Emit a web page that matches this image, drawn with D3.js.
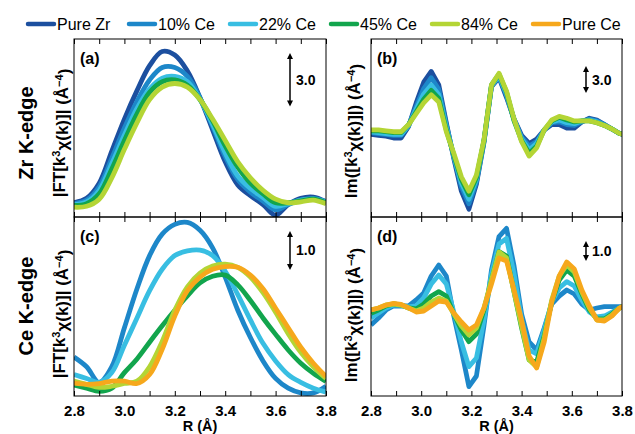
<!DOCTYPE html>
<html>
<head>
<meta charset="utf-8">
<script src="https://cdn.jsdelivr.net/npm/d3@7"></script>
<style>
  body { margin: 0; background: #fff; }
  svg { display: block; font-family: Arial, "Liberation Sans", sans-serif; }
</style>
</head>
<body>
<svg id="chart" width="635" height="434"></svg>
<script>
// series names and colours (legend order)
const seriesNames = ['Pure Zr', '10% Ce', '22% Ce', '45% Ce', '84% Ce', 'Pure Ce'];
const seriesColors = ['#1c4f9f', '#1d87c9', '#38bee2', '#12a54d', '#b4d535', '#f6a81c'];

// R grids (Å)
const rCoarse = [2.80, 2.85, 2.90, 2.95, 3.00, 3.05, 3.10, 3.15, 3.20, 3.25, 3.30,
  3.35, 3.40, 3.45, 3.50, 3.55, 3.60, 3.65, 3.70, 3.75, 3.80];
const rFine = [2.80, 2.83, 2.86, 2.89, 2.92, 2.95, 2.98, 3.01, 3.04, 3.07, 3.10, 3.13,
  3.16, 3.19, 3.22, 3.25, 3.28, 3.31, 3.34, 3.37, 3.40, 3.43, 3.46, 3.49, 3.52, 3.55,
  3.58, 3.61, 3.64, 3.67, 3.70, 3.73, 3.76, 3.79, 3.82];
const xTicks = [2.8, 2.9, 3.0, 3.1, 3.2, 3.3, 3.4, 3.5, 3.6, 3.7, 3.8];

// (a) Zr K-edge |FT|
const aPureZr = [0.8, 1.05, 1.9, 3.7, 5.5, 7.1, 8.5, 9.3, 9.1, 8.2, 6.7, 4.9, 3.1, 1.8, 1.2, 0.7, 0.1, 0.7, 1.05, 1.12, 0.86];
const a10Ce = [0.75, 0.95, 1.7, 3.3, 5.0, 6.5, 7.7, 8.4, 8.4, 7.9, 6.7, 5.1, 3.4, 2.1, 1.4, 0.9, 0.4, 0.7, 0.95, 1.05, 0.85];
const a22Ce = [0.7, 0.85, 1.5, 3.0, 4.6, 6.1, 7.2, 7.8, 7.9, 7.6, 6.6, 5.2, 3.6, 2.3, 1.6, 1.1, 0.6, 0.75, 0.95, 1.0, 0.85];
const a45Ce = [0.65, 0.75, 1.3, 2.7, 4.3, 5.8, 7.0, 7.6, 7.7, 7.4, 6.6, 5.4, 4.0, 2.8, 1.9, 1.3, 0.8, 0.8, 0.9, 1.0, 0.8];
const a84Ce = [0.55, 0.6, 1.0, 2.2, 3.8, 5.3, 6.6, 7.3, 7.5, 7.3, 6.6, 5.5, 4.3, 3.1, 2.2, 1.5, 1.0, 0.8, 0.85, 0.95, 0.75];

// (b) Zr K-edge Im
const bPureZr = [-0.5, -0.6, -0.7, -0.9, -0.9, 0.4, 3.0, 5.3, 6.5, 5.0, 0.8, -3.2, -6.8, -8.8, -6.0, -1.4, 4.8, 5.8, 3.6, 1.2, -0.6, -1.5, -1.0, 0.0, 0.6, 0.6, 0.2, 0.2, 0.9, 1.3, 1.1, 0.6, 0.1, -0.4, -0.6];
const b10Ce = [-0.3, -0.4, -0.5, -0.6, -0.6, 0.5, 2.6, 4.6, 5.8, 4.5, 0.6, -3.0, -6.3, -8.2, -5.8, -1.3, 4.9, 5.9, 3.8, 1.2, -0.8, -1.8, -1.3, 0.0, 0.8, 0.9, 0.6, 0.5, 0.9, 1.2, 1.0, 0.6, 0.1, -0.4, -0.6];
const b22Ce = [-0.2, -0.3, -0.4, -0.5, -0.5, 0.5, 2.3, 4.0, 5.0, 3.9, 0.3, -2.9, -5.9, -7.7, -5.5, -1.2, 4.9, 6.0, 4.0, 1.1, -1.0, -2.2, -1.5, 0.0, 0.9, 1.1, 0.8, 0.7, 1.0, 1.1, 0.9, 0.5, 0.1, -0.4, -0.6];
const b45Ce = [-0.1, -0.1, -0.2, -0.3, -0.3, 0.6, 2.0, 3.4, 4.4, 3.5, 0.0, -2.8, -5.5, -7.2, -5.3, -1.2, 5.0, 6.2, 4.2, 1.0, -1.2, -2.6, -1.8, 0.0, 1.0, 1.4, 1.1, 0.9, 1.0, 1.0, 0.8, 0.5, 0.1, -0.4, -0.6];
const b84Ce = [0.0, 0.0, -0.1, -0.2, -0.2, 0.6, 1.8, 3.0, 3.9, 3.1, -0.2, -2.6, -5.2, -6.8, -5.0, -1.1, 5.0, 6.3, 4.3, 1.2, -1.3, -2.9, -2.0, 0.0, 1.1, 1.5, 1.3, 1.0, 1.0, 1.0, 0.8, 0.5, 0.1, -0.4, -0.6];

// (c) Ce K-edge |FT|
const c10Ce = [1.0, 0.75, 0.35, 0.75, 1.75, 2.75, 3.6, 4.15, 4.4, 4.45, 4.25, 3.8, 3.05, 2.2, 1.5, 0.9, 0.45, 0.2, 0.08, 0.08, 0.25];
const c22Ce = [0.55, 0.45, 0.35, 0.6, 1.3, 2.0, 2.7, 3.25, 3.6, 3.72, 3.74, 3.6, 3.2, 2.6, 1.95, 1.35, 0.9, 0.55, 0.35, 0.2, 0.1];
const c45Ce = [0.28, 0.2, 0.12, 0.2, 0.6, 0.95, 1.38, 1.8, 2.2, 2.57, 2.9, 3.07, 3.1, 2.85, 2.45, 2.0, 1.58, 1.18, 0.84, 0.58, 0.37];
const c84Ce = [0.38, 0.3, 0.22, 0.25, 0.32, 0.38, 0.75, 1.4, 2.2, 2.8, 3.15, 3.33, 3.38, 3.3, 3.05, 2.65, 2.15, 1.6, 1.12, 0.75, 0.45];
const cPureCe = [0.33, 0.3, 0.32, 0.38, 0.38, 0.32, 0.55, 1.2, 2.05, 2.7, 3.05, 3.25, 3.32, 3.3, 3.1, 2.75, 2.25, 1.75, 1.25, 0.84, 0.5];

// (d) Ce K-edge Im
const d10Ce = [-0.75, -0.4, 0.0, 0.2, 0.2, 0.2, 0.5, 0.85, 1.7, 2.25, 1.7, -0.3, -2.0, -3.83, -3.3, -0.8, 2.0, 3.67, 4.08, 2.2, -0.2, -1.6, -2.0, -0.9, 0.3, 0.7, 1.0, 0.8, 0.3, 0.0, 0.1, 0.17, 0.17, 0.17, 0.2];
const d22Ce = [-0.4, -0.15, 0.1, 0.25, 0.25, 0.15, 0.2, 0.6, 1.3, 1.75, 1.3, -0.1, -1.6, -2.83, -2.4, -0.5, 1.8, 3.3, 3.58, 1.8, -0.5, -2.0, -2.2, -1.0, 0.4, 1.1, 1.42, 1.2, 0.5, -0.1, -0.35, -0.3, -0.1, 0.1, 0.2];
const d45Ce = [-0.17, 0.0, 0.2, 0.3, 0.25, 0.1, 0.05, 0.3, 0.7, 0.92, 0.7, -0.2, -1.0, -1.58, -1.2, 0.0, 1.5, 2.92, 2.7, 0.9, -0.9, -2.5, -2.6, -1.3, 0.4, 1.5, 2.0, 1.7, 0.8, 0.0, -0.45, -0.45, -0.2, 0.1, 0.3];
const d84Ce = [0.0, 0.1, 0.25, 0.3, 0.25, 0.1, -0.05, 0.1, 0.4, 0.6, 0.45, -0.2, -0.8, -1.25, -0.9, 0.1, 1.5, 2.9, 2.6, 0.9, -0.8, -2.5, -2.85, -1.4, 0.5, 1.7, 2.25, 1.9, 0.9, 0.1, -0.5, -0.5, -0.25, 0.1, 0.3];
const dPureCe = [0.0, 0.1, 0.25, 0.33, 0.28, 0.1, -0.1, -0.05, 0.2, 0.45, 0.4, -0.15, -0.6, -1.0, -0.75, 0.1, 1.3, 2.6, 2.45, 1.0, -0.5, -2.3, -2.9, -1.6, 0.4, 1.7, 2.4, 2.05, 1.0, 0.2, -0.5, -0.55, -0.3, 0.1, 0.3];

const svg = d3.select('#chart');

const panels = [
  { key: 'a', label: '(a)', x0: 74, x1: 326, y0: 39, y1: 217, yDomain: [0, 10], r: rCoarse,
    series: [[0, aPureZr], [1, a10Ce], [2, a22Ce], [3, a45Ce], [4, a84Ce]],
    bar: 3.0, barX: 290, barTop: 53, xLabels: false, smooth: true },
  { key: 'b', label: '(b)', x0: 371, x1: 622, y0: 39, y1: 217, yDomain: [-9.67, 10.1], r: rFine,
    series: [[0, bPureZr], [1, b10Ce], [2, b22Ce], [3, b45Ce], [4, b84Ce]],
    bar: 3.0, barX: 586, barTop: 66, xLabels: false, smooth: false },
  { key: 'c', label: '(c)', x0: 74, x1: 326, y0: 217, y1: 396, yDomain: [0, 4.59], r: rCoarse,
    series: [[1, c10Ce], [2, c22Ce], [3, c45Ce], [4, c84Ce], [5, cPureCe]],
    bar: 1.0, barX: 290, barTop: 231, xLabels: true, smooth: true },
  { key: 'd', label: '(d)', x0: 371, x1: 622, y0: 217, y1: 396, yDomain: [-4.3, 4.65], r: rFine,
    series: [[1, d10Ce], [2, d22Ce], [3, d45Ce], [4, d84Ce], [5, dPureCe]],
    bar: 1.0, barX: 586, barTop: 241, xLabels: true, smooth: false }
];

const defs = svg.append('defs');

panels.forEach(p => {
  const x = d3.scaleLinear().domain([2.8, 3.8]).range([p.x0, p.x1]);
  const y = d3.scaleLinear().domain(p.yDomain).range([p.y1, p.y0]);
  const g = svg.append('g').attr('class', 'panel-' + p.key);

  defs.append('clipPath').attr('id', 'clip-' + p.key)
    .append('rect')
    .attr('x', p.x0).attr('y', p.y0)
    .attr('width', p.x1 - p.x0).attr('height', p.y1 - p.y0);

  const line = d3.line()
    .x(d => x(d[0]))
    .y(d => y(d[1]))
    .curve(p.smooth ? d3.curveCatmullRom.alpha(0.5) : d3.curveLinear);

  const lines = g.append('g').attr('clip-path', `url(#clip-${p.key})`);
  p.series.forEach(([idx, vals]) => {
    lines.append('path')
      .datum(vals.map((v, i) => [p.r[i], v]))
      .attr('fill', 'none')
      .attr('stroke', seriesColors[idx])
      .attr('stroke-width', 4.8)
      .attr('stroke-linejoin', 'round')
      .attr('d', line);
  });

  // frame
  g.append('rect')
    .attr('x', p.x0).attr('y', p.y0)
    .attr('width', p.x1 - p.x0).attr('height', p.y1 - p.y0)
    .attr('fill', 'none').attr('stroke', '#000').attr('stroke-width', 1);

  // inward ticks top & bottom
  const top = d3.axisTop(x).tickValues(xTicks).tickSizeInner(-5).tickSizeOuter(0).tickFormat('');
  g.append('g').attr('transform', `translate(0,${p.y0})`).call(top)
    .call(s => s.select('.domain').remove());
  const bottom = d3.axisBottom(x).tickValues(xTicks).tickSizeInner(-5).tickSizeOuter(0)
    .tickPadding(9)
    .tickFormat(d => (p.xLabels && Math.round(d * 10) % 2 === 0) ? d3.format('.1f')(d) : '');
  const bx = g.append('g').attr('transform', `translate(0,${p.y1})`).call(bottom);
  bx.select('.domain').remove();
  bx.selectAll('text')
    .attr('font-family', 'Arial, "Liberation Sans", sans-serif')
    .attr('font-size', 15).attr('font-weight', 'bold').attr('fill', '#000');

  // panel letter
  g.append('text')
    .attr('x', p.x0 + 6).attr('y', p.y0 + 25)
    .attr('font-size', 16).attr('font-weight', 'bold')
    .text(p.label);

  // scale bar
  const barLen = y(0) - y(p.bar);
  const bTop = p.barTop, bBot = p.barTop + barLen;
  g.append('line')
    .attr('x1', p.barX).attr('x2', p.barX)
    .attr('y1', bTop + 3).attr('y2', bBot - 3)
    .attr('stroke', '#000').attr('stroke-width', 1.5);
  g.append('path')
    .attr('d', `M${p.barX},${bTop} L${p.barX - 3},${bTop + 6} L${p.barX + 3},${bTop + 6} Z` +
      `M${p.barX},${bBot} L${p.barX - 3},${bBot - 6} L${p.barX + 3},${bBot - 6} Z`)
    .attr('fill', '#000');
  g.append('text')
    .attr('x', p.barX + 6).attr('y', (bTop + bBot) / 2 + 5)
    .attr('font-size', 14).attr('font-weight', 'bold')
    .text(d3.format('.1f')(p.bar));

  if (p.xLabels) {
    g.append('text')
      .attr('x', (p.x0 + p.x1) / 2).attr('y', 430.5)
      .attr('text-anchor', 'middle')
      .attr('font-size', 14.5).attr('font-weight', 'bold')
      .text('R (Å)');
  }
});

// rotated y labels
function yLabel(cx, cy, parts, size) {
  const t = svg.append('text')
    .attr('transform', `translate(${cx},${cy}) rotate(-90)`)
    .attr('text-anchor', 'middle')
    .attr('font-size', size).attr('font-weight', 'bold');
  parts.forEach(([s, sup]) => {
    const ts = t.append('tspan').text(s);
    if (sup) ts.attr('dy', '-0.45em').attr('font-size', size * 0.65);
    else if (sup === false) ts.attr('dy', '0.45em');
  });
}
const ftParts = [['|FT[k'], ['3', true], ['χ(k)]| (Å', false], ['−4', true], [')', false]];
const imParts = [['Im([k'], ['3', true], ['χ(k)]|) (Å', false], ['−4', true], [')', false]];

svg.append('text').attr('transform', 'translate(33,133) rotate(-90)')
  .attr('text-anchor', 'middle').attr('font-size', 20).attr('font-weight', 'bold').text('Zr K-edge');
svg.append('text').attr('transform', 'translate(33,306) rotate(-90)')
  .attr('text-anchor', 'middle').attr('font-size', 20).attr('font-weight', 'bold').text('Ce K-edge');
yLabel(65, 133, ftParts, 17);
yLabel(65, 314, ftParts, 17);
yLabel(357, 131, imParts, 17);
yLabel(357, 315, imParts, 17);

// legend
const legend = svg.append('g');
seriesNames.forEach((name, i) => {
  const lx = 26 + i * 101;
  legend.append('line')
    .attr('x1', lx + 2).attr('x2', lx + 28)
    .attr('y1', 24).attr('y2', 24)
    .attr('stroke', seriesColors[i]).attr('stroke-width', 4.5)
    .attr('stroke-linecap', 'round');
  legend.append('text')
    .attr('x', lx + 31).attr('y', 30)
    .attr('font-size', 16)
    .text(name);
});
</script>
</body>
</html>
